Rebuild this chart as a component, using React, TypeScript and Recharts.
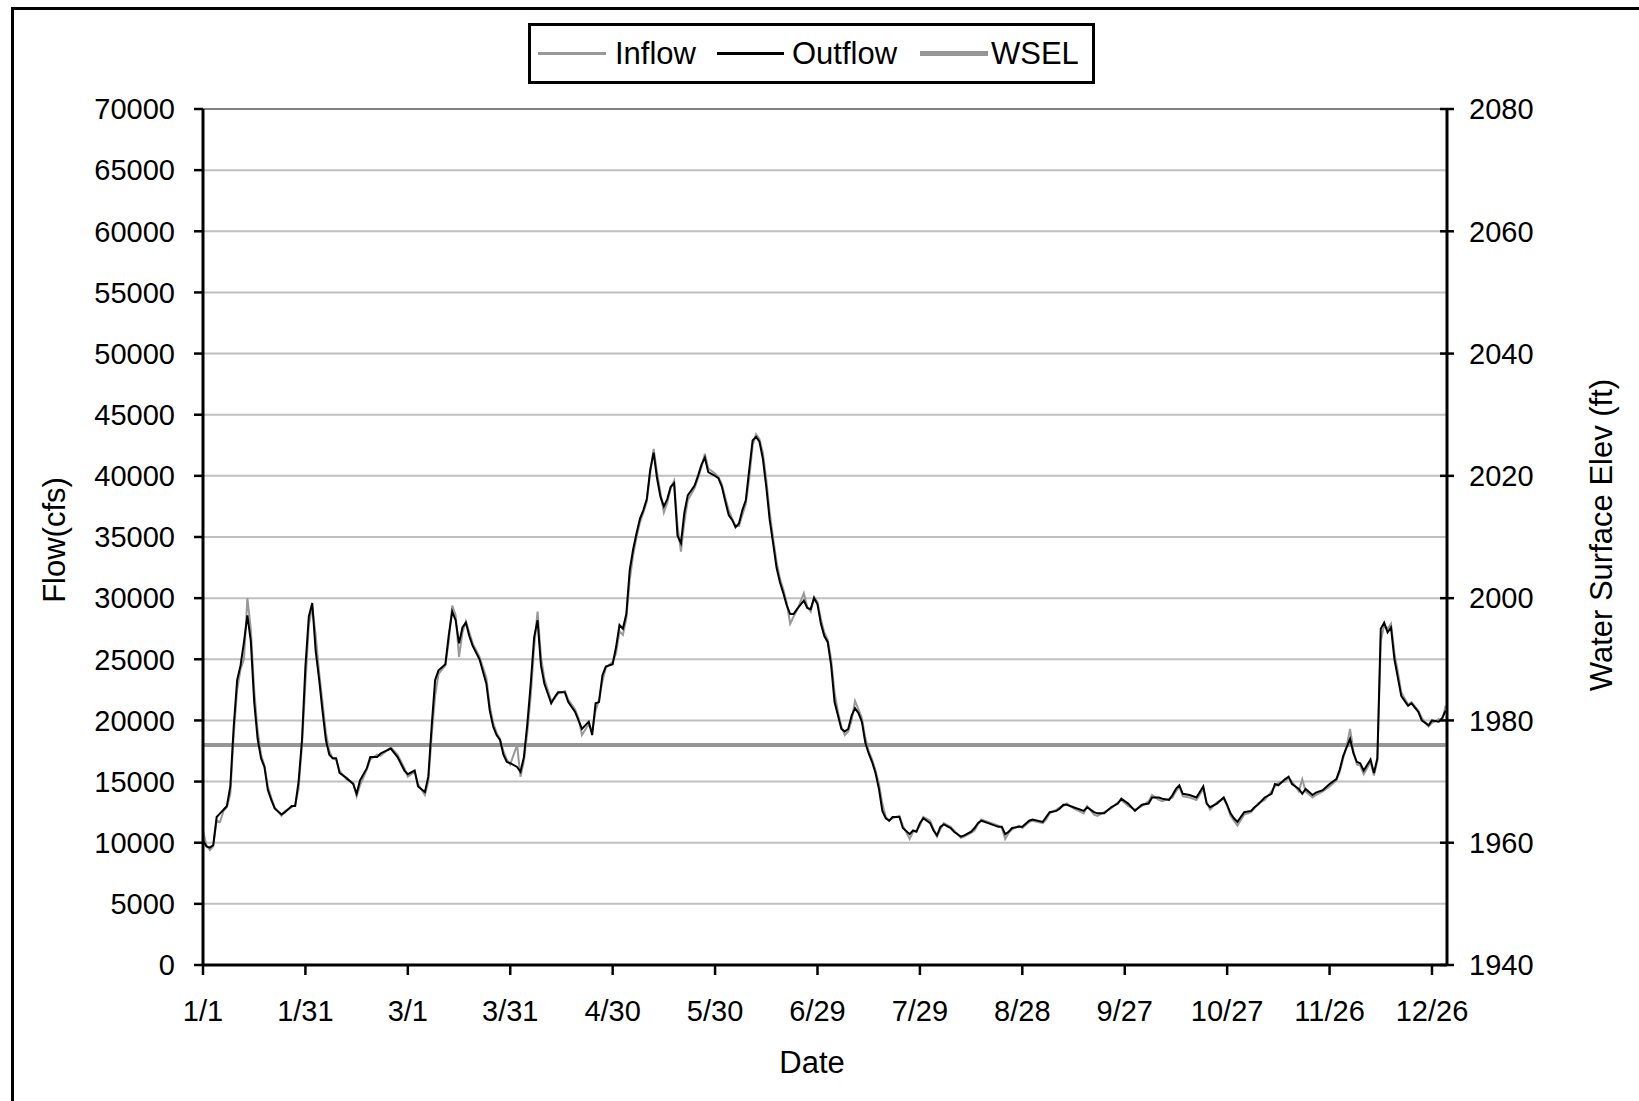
import React from "react";
import { LineChart, Line, XAxis, YAxis, CartesianGrid, Legend, ReferenceLine } from "recharts";

// day of year (0 = 1/1)
const days = [
  0, 1, 2, 3, 4, 5, 6, 7, 8, 9,
  10, 11, 12, 13, 14, 15, 16, 17, 18, 19,
  20, 21, 23, 24, 26, 27, 28, 29, 30, 31,
  32, 33, 34, 35, 36, 37, 38, 39, 40, 42,
  44, 45, 46, 48, 49, 51, 52, 55, 57, 59,
  60, 62, 63, 65, 66, 67, 68, 69, 71, 72,
  73, 74, 75, 76, 77, 78, 79, 81, 83, 84,
  85, 86, 87, 88, 89, 90, 92, 93, 94, 95,
  96, 97, 98, 99, 100, 101, 102, 103, 104, 106,
  107, 109, 110, 111, 113, 114, 115, 116, 117, 118,
  120, 121, 122, 123, 124, 125, 126, 127, 128, 129,
  130, 131, 132, 133, 134, 135, 136, 137, 138, 139,
  140, 141, 142, 144, 145, 146, 147, 148, 150, 151,
  152, 153, 154, 155, 156, 157, 158, 159, 160, 161,
  162, 163, 164, 165, 166, 167, 168, 169, 170, 171,
  172, 173, 174, 176, 177, 178, 179, 180, 181, 182,
  183, 184, 185, 186, 187, 188, 189, 190, 191, 192,
  193, 194, 195, 196, 197, 198, 199, 200, 201, 202,
  204, 205, 207, 208, 209, 210, 211, 213, 214, 215,
  216, 217, 219, 220, 222, 223, 225, 226, 227, 228,
  230, 231, 233, 234, 235, 236, 237, 239, 240, 242,
  243, 246, 247, 248, 250, 251, 252, 253, 255, 258,
  259, 261, 262, 264, 266, 268, 269, 271, 273, 275,
  277, 278, 280, 281, 283, 284, 285, 286, 287, 289,
  291, 293, 294, 295, 297, 299, 300, 301, 302, 303,
  305, 307, 308, 309, 311, 313, 314, 315, 317, 318,
  319, 321, 322, 323, 325, 326, 328, 330, 332, 333,
  334, 335, 336, 337, 338, 339, 340, 342, 343, 344,
  345, 346, 347, 348, 349, 350, 351, 352, 353, 354,
  356, 357, 359, 360, 362, 363, 364,
];

const outflow = [
  10200, 9700, 9600, 9800, 12100, 12400, 12700, 13000, 14600, 19500,
  23300, 24500, 26400, 28600, 26500, 21500, 18500, 16900, 16200, 14300,
  13500, 12800, 12300, 12500, 13000, 13000, 15000, 18400, 24400, 28500,
  29600, 25700, 23400, 20800, 18400, 17200, 16900, 16900, 15700, 15300,
  14800, 14000, 15100, 16100, 17000, 17000, 17300, 17700, 17000, 15900,
  15600, 15900, 14600, 14150, 15400, 19600, 23300, 24100, 24600, 27000,
  28900, 28200, 26300, 27600, 28000, 26900, 26100, 25000, 23000, 20800,
  19500, 18800, 18400, 17200, 16600, 16500, 16200, 15800, 17000, 19700,
  23000, 26800, 28200, 24500, 23000, 22200, 21400, 21900, 22300, 22300,
  21500, 20700, 20000, 19300, 19900, 18800, 21400, 21500, 23700, 24400,
  24600, 26000, 27800, 27500, 28700, 32300, 34000, 35300, 36500, 37200,
  38100, 40500, 41900, 39800, 38300, 37500, 38100, 39100, 39400, 35100,
  34500, 37000, 38400, 39200, 40000, 40900, 41500, 40300, 40000, 39800,
  39100, 37900, 36800, 36400, 35800, 36100, 37200, 38000, 40500, 42900,
  43200, 42800, 41400, 39100, 36400, 34500, 32500, 31300, 30400, 29400,
  28700, 28700, 29100, 29800, 29200, 29100, 30000, 29500, 27900, 26900,
  26400, 24500, 21500, 20400, 19300, 19100, 19300, 20400, 21000, 20600,
  19900, 18200, 17300, 16600, 15700, 14400, 12600, 12000, 11800, 12100,
  12100, 11200, 10700, 11000, 10900, 11600, 12000, 11600, 11000, 10600,
  11300, 11500, 11200, 10900, 10500, 10600, 10900, 11200, 11600, 11800,
  11600, 11500, 11300, 11300, 10700, 10900, 11200, 11300, 11300, 11800,
  11900, 11700, 12100, 12500, 12600, 12800, 13100, 13100, 12900, 12600,
  12900, 12500, 12400, 12400, 12900, 13200, 13600, 13200, 12600, 13100,
  13200, 13700, 13700, 13600, 13500, 13900, 14400, 14700, 14000, 13900,
  13700, 14600, 13200, 12900, 13200, 13700, 13100, 12400, 12000, 11700,
  12500, 12600, 12900, 13100, 13700, 14000, 14800, 14700, 15200, 15400,
  14800, 14400, 14000, 14400, 13900, 14100, 14300, 14800, 15200, 16000,
  17100, 17800, 18500, 17300, 16600, 16500, 15900, 16800, 15700, 16900,
  27500, 28000, 27200, 27600, 25000, 23500, 22000, 21600, 21200, 21400,
  20700, 20000, 19600, 20000, 19900, 20200, 20800,
];

const inflow = [
  11000, 9800, 9400, 9700, 11800, 11700, 12600, 12900, 14000, 18800,
  22500, 24200, 25000, 30000, 27500, 22500, 19200, 17200, 16300, 14600,
  13700, 12900, 12200, 12600, 12900, 13100, 14400, 18000, 23000, 27800,
  29300, 27000, 24000, 21500, 19000, 17500, 16900, 16800, 15900, 15200,
  14900, 13800, 14700, 16000, 16800, 17200, 17100, 17800, 17200, 16100,
  15400, 15800, 14800, 13900, 15000, 18800, 22000, 23800, 24500, 26500,
  29400, 28600, 25200, 27200, 28100, 27200, 26300, 25200, 23500, 21200,
  19800, 19000, 18500, 17500, 16800, 16400, 18000, 15400, 16700, 19000,
  22000, 26000, 28900, 25200, 23400, 22500, 21600, 21800, 22200, 22400,
  21700, 20900, 20200, 18800, 19700, 19100, 20800, 21700, 23200, 24300,
  24800, 25500, 27300, 27000, 28300, 31500, 33500, 35000, 36200, 37000,
  37900, 40200, 42200, 40300, 38600, 37000, 37800, 39000, 39600, 35900,
  33800, 36200, 38000, 39000, 39800, 40700, 41800, 40600, 40200, 39900,
  39300, 38200, 37200, 36500, 35900, 35900, 36800, 37700, 39800, 42500,
  43400, 43000, 41900, 39700, 37000, 34900, 33000, 31600, 30700, 29600,
  27900, 28500, 29000, 30400, 29300, 28900, 30100, 29700, 28300, 27200,
  26600, 25000, 22300, 20700, 19500, 18800, 19100, 20000, 21600, 20900,
  20200, 18600, 17500, 16800, 15900, 14800, 13200, 12100, 11800, 12000,
  12200, 11400, 10300, 10900, 11000, 11400, 12100, 11800, 11100, 10500,
  11100, 11600, 11300, 11000, 10400, 10500, 10800, 11000, 11500, 11900,
  11700, 11600, 11400, 11200, 10300, 10800, 11100, 11400, 11200, 11700,
  11800, 11600, 11900, 12400, 12700, 12900, 13000, 13200, 12800, 12400,
  13000, 12300, 12200, 12500, 12800, 13300, 13500, 13000, 12700, 13000,
  13400, 13900, 13500, 13400, 13600, 13700, 14200, 14600, 13800, 13700,
  13500, 14400, 13300, 12700, 13300, 13600, 13000, 12200, 11800, 11400,
  12300, 12500, 12800, 13200, 13500, 14200, 14600, 14900, 15000, 15300,
  15000, 14200, 15200, 14200, 13700, 13900, 14200, 14600, 15100, 15800,
  16900, 17900, 19300, 17500, 16400, 16300, 15600, 16600, 15500, 16700,
  26500, 27800, 27500, 27900, 25500, 24000, 22300, 21800, 21300, 21500,
  20800, 20200, 19500, 19800, 20100, 20000, 21200,
];

const wselLevel = 1976;

const dateTicks = [0, 30, 60, 90, 120, 150, 180, 210, 240, 270, 300, 330, 360];
const dateLabels = ["1/1", "1/31", "3/1", "3/31", "4/30", "5/30", "6/29", "7/29", "8/28", "9/27", "10/27", "11/26", "12/26"];
const flowTicks = [0, 5000, 10000, 15000, 20000, 25000, 30000, 35000, 40000, 45000, 50000, 55000, 60000, 65000, 70000];
const elevTicks = [1940, 1960, 1980, 2000, 2020, 2040, 2060, 2080];

const chartData = days.map((day, i) => ({
  day,
  inflow: inflow[i],
  outflow: outflow[i],
  wsel: wselLevel,
}));

const FONT = "'Liberation Sans', Arial, sans-serif";

const RightTick = (props: any) => {
  const { x, y, payload } = props;
  return (
    <g>
      <line x1={x - 29} x2={x - 15} y1={y} y2={y} stroke="#000" strokeWidth={2.5} />
      <text x={x} y={y} dy="0.355em" textAnchor="start" fontSize={29} fill="#000" fontFamily={FONT}>
        {payload.value}
      </text>
    </g>
  );
};

const LegendBox = () => (
  <svg width={567} height={61} style={{ display: "block" }}>
    <rect x={1.5} y={1.5} width={564} height={58} fill="#fff" stroke="#000" strokeWidth={3} />
    <line x1={10} x2={78} y1={30.5} y2={30.5} stroke="#999999" strokeWidth={3} />
    <text x={87} y={41} fontSize={31} fontFamily={FONT}>Inflow</text>
    <line x1={189} x2={256} y1={30.5} y2={30.5} stroke="#000" strokeWidth={3} />
    <text x={264} y={41} fontSize={31} fontFamily={FONT}>Outflow</text>
    <line x1={392} x2={460} y1={30.5} y2={30.5} stroke="#969696" strokeWidth={5} />
    <text x={463} y={41} fontSize={31} fontFamily={FONT}>WSEL</text>
  </svg>
);

const FlowTitle = () => (
  <text x={54} y={540} transform="rotate(-90 54 540)" textAnchor="middle" dominantBaseline="central" fontSize={31} fontFamily={FONT} fill="#000">
    Flow(cfs)
  </text>
);

const ElevTitle = () => (
  <text x={1601} y={535} transform="rotate(-90 1601 535)" textAnchor="middle" dominantBaseline="central" fontSize={31} fontFamily={FONT} fill="#000">
    Water Surface Elev (ft)
  </text>
);

const DateTitle = () => (
  <text x={812} y={1062} textAnchor="middle" dominantBaseline="central" fontSize={31} fontFamily={FONT} fill="#000">
    Date
  </text>
);

export default function App() {
  return (
    <div style={{ position: "absolute", left: 0, top: 0, width: 1639, height: 1101, background: "#fff", overflow: "hidden", fontFamily: FONT }}>
      <div
        style={{
          position: "absolute",
          left: 11,
          top: 7,
          width: 1700,
          height: 1200,
          borderLeft: "3px solid #000",
          borderTop: "3px solid #000",
        }}
      />
      <div style={{ position: "absolute", left: 0, top: 0 }}>
        <LineChart
          width={1639}
          height={1101}
          data={chartData}
          margin={{ top: 109, right: 82, bottom: 76, left: 83 }}
          style={{ fontFamily: FONT }}
        >
          <CartesianGrid yAxisId="left" vertical={false} stroke="#c0c0c0" strokeWidth={2} />
          <ReferenceLine yAxisId="left" y={70000} stroke="#808080" strokeWidth={2} />
          <XAxis
            dataKey="day"
            type="number"
            domain={[0, 364.4]}
            ticks={dateTicks}
            interval={0}
            tickFormatter={(v: number) => dateLabels[dateTicks.indexOf(v)]}
            axisLine={{ stroke: "#000", strokeWidth: 3 }}
            tickLine={{ stroke: "#000", strokeWidth: 2.5 }}
            tickSize={10}
            tickMargin={25}
            tick={{ fill: "#000", fontSize: 29, fontFamily: FONT }}
            height={60}
            label={<DateTitle />}
          />
          <YAxis
            yAxisId="left"
            domain={[0, 70000]}
            ticks={flowTicks}
            interval={0}
            width={120}
            axisLine={{ stroke: "#000", strokeWidth: 3 }}
            tickLine={{ stroke: "#000", strokeWidth: 2.5 }}
            tickSize={9}
            tickMargin={19}
            tick={{ fill: "#000", fontSize: 29, fontFamily: FONT }}
            label={<FlowTitle />}
          />
          <YAxis
            yAxisId="right"
            orientation="right"
            domain={[1940, 2080]}
            ticks={elevTicks}
            interval={0}
            width={110}
            axisLine={{ stroke: "#000", strokeWidth: 3 }}
            tickLine={false}
            tickSize={7}
            tickMargin={15}
            tick={<RightTick />}
            label={<ElevTitle />}
          />
          <Legend
            layout="horizontal"
            verticalAlign="middle"
            align="center"
            width={567}
            height={61}
            wrapperStyle={{ left: 528, top: 23, width: 567, height: 61 }}
            content={() => <LegendBox />}
          />
          <Line
            yAxisId="right"
            dataKey="wsel"
            name="WSEL"
            type="linear"
            stroke="#969696"
            strokeWidth={4}
            dot={false}
            isAnimationActive={false}
          />
          <Line
            yAxisId="left"
            dataKey="inflow"
            name="Inflow"
            type="linear"
            stroke="#999999"
            strokeWidth={2}
            dot={false}
            isAnimationActive={false}
          />
          <Line
            yAxisId="left"
            dataKey="outflow"
            name="Outflow"
            type="linear"
            stroke="#000"
            strokeWidth={2}
            dot={false}
            isAnimationActive={false}
          />
        </LineChart>
      </div>
    </div>
  );
}
